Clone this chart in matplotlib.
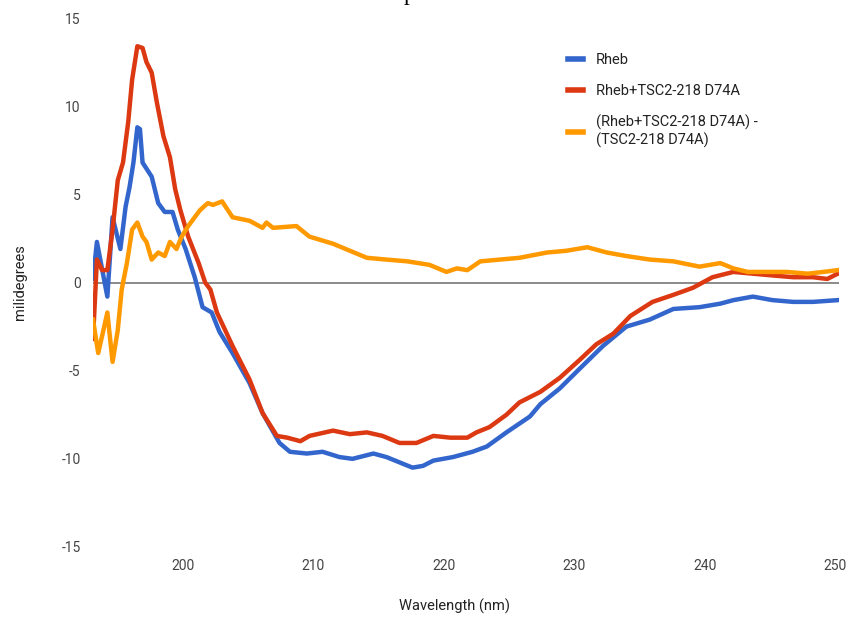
import matplotlib.pyplot as plt

# wavelength (nm) / millidegrees
rheb_wl = [193.1, 193.4, 194.2, 194.6, 195.2, 195.6, 195.9, 196.2, 196.5, 196.7,
           196.9, 197.6, 198.1, 198.6, 199.2, 199.6, 200.2, 200.9, 201.5, 202.2,
           202.8, 203.8, 205.1, 206.1, 207.4, 208.2, 209.5, 210.7, 212.0, 213.0,
           214.6, 215.6, 216.6, 217.6, 218.4, 219.2, 220.7, 222.2, 223.3, 224.8,
           226.6, 227.4, 228.9, 230.4, 232.2, 234.0, 235.8, 237.6, 239.6, 241.2,
           242.2, 243.7, 245.2, 246.8, 248.3, 250.2]
rheb_cd = [0.2, 2.3, -0.8, 3.7, 1.9, 4.3, 5.4, 6.8, 8.8, 8.7,
           6.8, 6.0, 4.5, 4.0, 4.0, 3.0, 1.9, 0.3, -1.4, -1.7,
           -2.8, -4.0, -5.7, -7.4, -9.1, -9.6, -9.7, -9.6, -9.9, -10.0,
           -9.7, -9.9, -10.2, -10.5, -10.4, -10.1, -9.9, -9.6, -9.3, -8.5,
           -7.6, -6.9, -6.0, -4.9, -3.6, -2.5, -2.1, -1.5, -1.4, -1.2,
           -1.0, -0.8, -1.0, -1.1, -1.1, -1.0]

complex_wl = [193.1, 193.4, 193.8, 194.2, 194.6, 195.0, 195.4, 195.8, 196.1, 196.5,
              196.9, 197.2, 197.6, 198.0, 198.5, 199.0, 199.4, 199.8, 200.4, 201.2,
              201.7, 202.1, 202.6, 203.8, 205.1, 206.1, 207.2, 208.0, 209.0, 209.7,
              211.5, 212.8, 214.1, 215.3, 216.6, 217.9, 219.2, 220.5, 221.8, 222.5,
              223.5, 224.8, 225.8, 227.4, 228.9, 230.4, 231.7, 233.0, 234.3, 236.0,
              237.6, 239.1, 240.6, 242.2, 243.7, 245.2, 246.8, 248.3, 249.4, 250.2]
complex_cd = [-3.2, 1.3, 0.7, 0.7, 3.0, 5.8, 6.8, 9.1, 11.5, 13.4,
              13.3, 12.5, 11.9, 10.2, 8.3, 7.1, 5.3, 4.1, 2.6, 1.1,
              0.0, -0.4, -1.7, -3.6, -5.5, -7.4, -8.7, -8.8, -9.0, -8.7,
              -8.4, -8.6, -8.5, -8.7, -9.1, -9.1, -8.7, -8.8, -8.8, -8.5,
              -8.2, -7.5, -6.8, -6.2, -5.4, -4.4, -3.5, -2.9, -1.9, -1.1,
              -0.7, -0.3, 0.3, 0.6, 0.5, 0.4, 0.3, 0.3, 0.2, 0.5]

diff_wl = [193.1, 193.5, 193.9, 194.2, 194.6, 195.0, 195.3, 195.7, 196.1, 196.5,
           196.9, 197.2, 197.6, 198.1, 198.6, 199.0, 199.5, 199.9, 200.4, 200.9,
           201.3, 201.9, 202.3, 203.0, 203.8, 205.1, 206.1, 206.4, 206.9, 208.7,
           209.7, 211.5, 212.8, 214.1, 215.6, 217.2, 218.9, 220.2, 221.0, 221.8,
           222.8, 224.3, 225.8, 227.9, 229.4, 231.0, 232.5, 234.0, 235.8, 237.6,
           239.6, 241.2, 242.2, 243.3, 244.8, 246.3, 247.9, 249.1, 250.2]
diff_cd = [-2.1, -4.0, -2.7, -1.7, -4.5, -2.7, -0.4, 1.1, 3.0, 3.4,
           2.6, 2.3, 1.3, 1.7, 1.5, 2.3, 1.9, 2.6, 3.2, 3.7,
           4.1, 4.5, 4.4, 4.6, 3.7, 3.5, 3.1, 3.4, 3.1, 3.2,
           2.6, 2.2, 1.8, 1.4, 1.3, 1.2, 1.0, 0.6, 0.8, 0.7,
           1.2, 1.3, 1.4, 1.7, 1.8, 2.0, 1.7, 1.5, 1.3, 1.2,
           0.9, 1.1, 0.8, 0.6, 0.6, 0.6, 0.5, 0.6, 0.7]

labels = ["Rheb", "Rheb+TSC2-218 D74A", "(Rheb+TSC2-218 D74A) -\n(TSC2-218 D74A)"]
colors = ["#3366CC", "#DC3912", "#FF9900"]

x_ticks = [200, 210, 220, 230, 240, 250]
y_ticks = [-15, -10, -5, 0, 5, 10, 15]

plt.rcParams["font.family"] = ["Roboto", "DejaVu Sans"]
plt.rcParams["axes.unicode_minus"] = False

fig = plt.figure(figsize=(8.57, 6.21), dpi=100)
ax = fig.add_axes([93 / 857, 74 / 621, 746 / 857, 529 / 621])

ax.axhline(0, color="#8a8a8a", lw=1.4, zorder=1)

series = [(rheb_wl, rheb_cd), (complex_wl, complex_cd), (diff_wl, diff_cd)]
for (wl, cd), lab, col in zip(series, labels, colors):
    ax.plot(wl, cd, color=col, lw=3.2, label=lab, solid_joinstyle="round", zorder=2)

ax.set_xlim(193.1, 250.3)
ax.set_ylim(-15, 15)
ax.set_xticks(x_ticks)
ax.set_yticks(y_ticks)
ax.tick_params(axis="both", length=0, labelsize=10, labelcolor="#444444")
ax.tick_params(axis="x", pad=9)
ax.tick_params(axis="y", pad=9)
for s in ax.spines.values():
    s.set_visible(False)

ax.set_xlabel("Wavelength (nm)", fontsize=10.5, color="#222222")
ax.set_ylabel("milidegrees", fontsize=10.5, color="#222222")
ax.xaxis.set_label_coords(0.485, -0.098)
ax.yaxis.set_label_coords(-0.089, 0.5)

leg = ax.legend(loc="upper left", bbox_to_anchor=(555 / 857, 1 - 40 / 621),
                bbox_transform=fig.transFigure, frameon=False, fontsize=10.5,
                handlelength=1.0, handletextpad=0.9, labelspacing=1.15,
                labelcolor="#222222")
for h in leg.get_lines():
    h.set_linewidth(4)

# clipped title fragment at the very top of the crop
fig.text(410 / 857, 1.0, "p", family="Liberation Serif", fontsize=17,
         ha="center", va="baseline", color="black")

fig.savefig("out.png", dpi=100)
